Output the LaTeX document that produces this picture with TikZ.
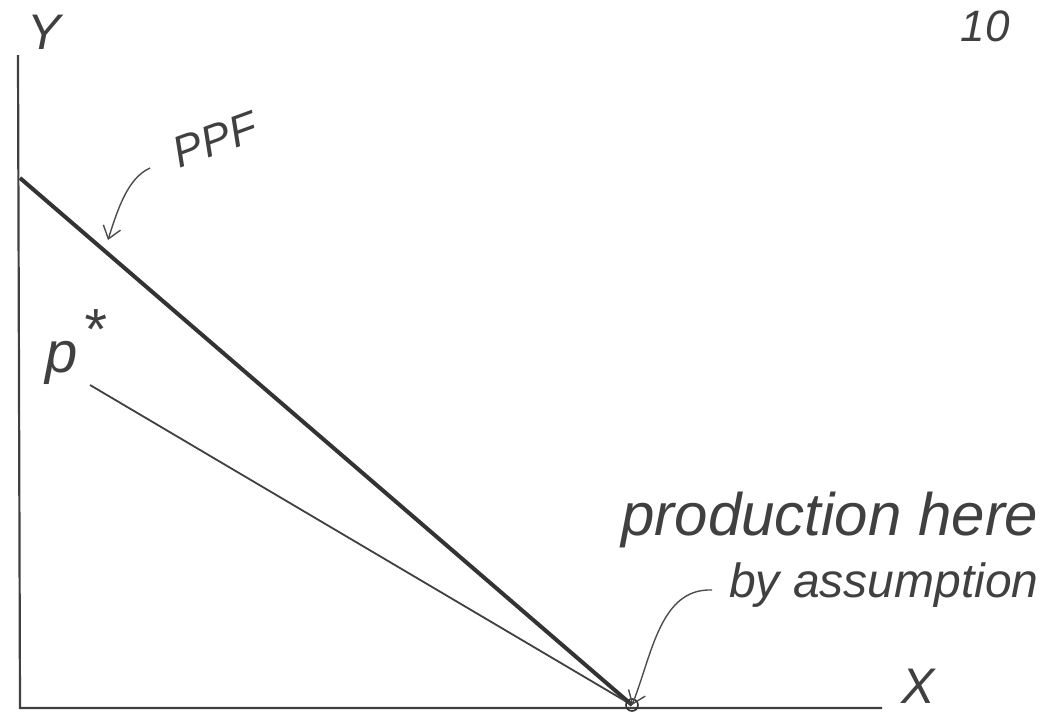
\documentclass[tikz,border=0pt]{standalone}
\usepackage{fontspec}
\setmainfont{Liberation Sans}
\usetikzlibrary{arrows.meta}
\begin{document}
\begin{tikzpicture}[x=1pt,y=-1pt,
  axis/.style={line width=2.2pt,draw=black!75},
  ppfline/.style={line width=4pt,draw=black!80},
  pline/.style={line width=1.8pt,draw=black!75},
  hand/.style={font=\itshape\fontsize{56}{60}\selectfont,text=black!75,inner sep=0pt},
  pointer/.style={line width=1.4pt,draw=black!70,-{Straight Barb[length=12pt,width=18pt]}}]
\useasboundingbox (0,0) rectangle (1052,721);
% axes
\coordinate (O) at (20,708);
\coordinate (Ytop) at (18,55);
\coordinate (Xend) at (882,708);
\draw[axis] (Ytop) -- (O) -- (Xend);
\node[hand,font=\itshape\fontsize{50}{54}\selectfont] (ylab) at (44,32) {Y};
\node[hand,font=\itshape\fontsize{50}{54}\selectfont] (xlab) at (918,686) {X};
\node[hand,font=\itshape\fontsize{44}{48}\selectfont,anchor=south] (page) at (985,42) {10};
% PPF and price line
\coordinate (ppfA) at (20,178);
\coordinate (prod) at (632,705);
\draw[ppfline] (ppfA) -- (prod);
\coordinate (pA) at (90,385);
\draw[pline] (pA) -- (prod);
\draw[line width=1.6pt,draw=black!80] (prod) circle (6);
% labels
\node[hand,font=\itshape\fontsize{44}{48}\selectfont,rotate=20] (ppflab) at (215,140) {PPF};
\coordinate (ppfpt) at (108,240);
\draw[pointer] (150,168) .. controls (128,178) and (118,208) .. (ppfpt);
\node[hand,font=\itshape\fontsize{58}{62}\selectfont,anchor=base] (plab) at (62,372) {p};
\node[hand,font=\itshape\fontsize{58}{62}\selectfont] (star) at (94,330) {*};
\node[hand,font=\itshape\fontsize{60}{64}\selectfont] (prodlab) at (830,520) {production here};
\node[hand,font=\itshape\fontsize{48}{52}\selectfont] (assum) at (884,585) {by assumption};
\draw[pointer] (712,590) .. controls (660,588) and (652,655) .. (prod);
\end{tikzpicture}
\end{document}
